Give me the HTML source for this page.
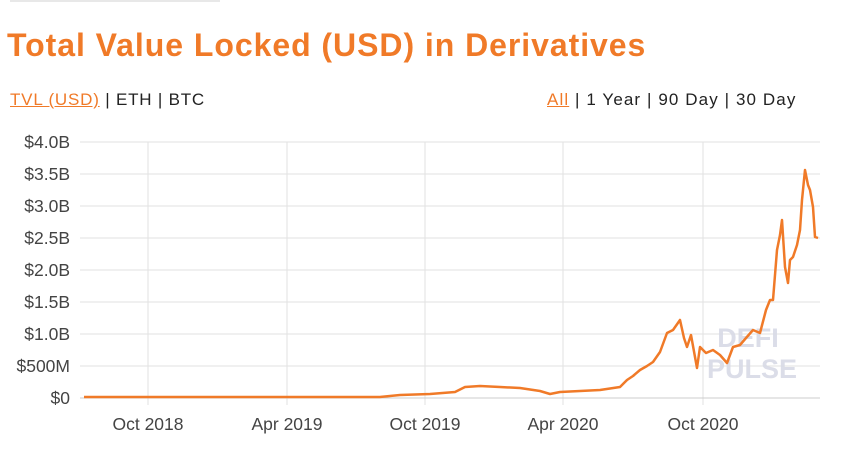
<!DOCTYPE html>
<html><head><style>
body{margin:0;width:866px;height:468px;background:#fff;font-family:"Liberation Sans",sans-serif;overflow:hidden;position:relative}
.t{position:absolute;left:7px;top:27px;font-size:32px;font-weight:bold;color:#f07a28;letter-spacing:0.95px}
.r{position:absolute;top:90px;font-size:17px;color:#222}
.r u{color:#f07a28}
</style></head><body>
<div style="position:absolute;left:10px;top:-6px;width:210px;height:8px;background:#e8e8e8"></div>
<div class="t">Total Value Locked (USD) in Derivatives</div>
<div class="r" style="left:10px;letter-spacing:0.8px"><u>TVL (USD)</u> | ETH | BTC</div>
<div class="r" style="left:547px;letter-spacing:1.1px"><u>All</u> | 1 Year | 90 Day | 30 Day</div>
<svg width="866" height="468" style="position:absolute;left:0;top:0">
<g stroke="#e2e2e2" stroke-width="1">
<line x1="80" x2="820" y1="142" y2="142"/><line x1="80" x2="820" y1="174" y2="174"/><line x1="80" x2="820" y1="206" y2="206"/><line x1="80" x2="820" y1="238" y2="238"/><line x1="80" x2="820" y1="270" y2="270"/><line x1="80" x2="820" y1="302" y2="302"/><line x1="80" x2="820" y1="334" y2="334"/><line x1="80" x2="820" y1="366" y2="366"/>
<line x1="148" x2="148" y1="142" y2="405"/><line x1="287" x2="287" y1="142" y2="405"/><line x1="425" x2="425" y1="142" y2="405"/><line x1="563" x2="563" y1="142" y2="405"/><line x1="703" x2="703" y1="142" y2="405"/>
</g>
<line x1="80" x2="820" y1="398" y2="398" stroke="#ccc"/>
<g font-size="17.5" fill="#444" text-anchor="end">
<text x="70" y="148">$4.0B</text><text x="70" y="180">$3.5B</text><text x="70" y="212">$3.0B</text><text x="70" y="244">$2.5B</text><text x="70" y="276">$2.0B</text><text x="70" y="308">$1.5B</text><text x="70" y="340">$1.0B</text><text x="70" y="372">$500M</text><text x="70" y="404">$0</text>
</g>
<g font-size="17.5" fill="#444" text-anchor="middle">
<text x="148" y="430">Oct 2018</text><text x="287" y="430">Apr 2019</text><text x="425" y="430">Oct 2019</text><text x="563" y="430">Apr 2020</text><text x="703" y="430">Oct 2020</text>
</g>
<g font-size="27" font-weight="bold" fill="#d8dae6" text-anchor="middle" opacity="0.9">
<text x="748" y="347">DEFI</text><text x="752" y="378">PULSE</text>
</g>
<polyline fill="none" stroke="#f07a28" stroke-width="2.5" stroke-linejoin="round" points="84,397 380,397 400,395 430,394 455,392 465,387 480,386 500,387 520,388 540,391 550,394 560,392 580,391 600,390 620,387 627,380 633,376 640,370 647,366 653,362 660,352 667,333 673,330 680,320 684,338 687,347 691,335 697,368 700,347 706,353 713,350 720,355 727,363 733,347 740,345 746,338 753,330 760,333 766,310 770,300 773,300 777,250 780,235 782,220 785,267 788,283 790,260 793,257 797,245 800,230 802,200 805,170 808,185 810,190 813,207 815,237 818,238"/>
</svg>
</body></html>
